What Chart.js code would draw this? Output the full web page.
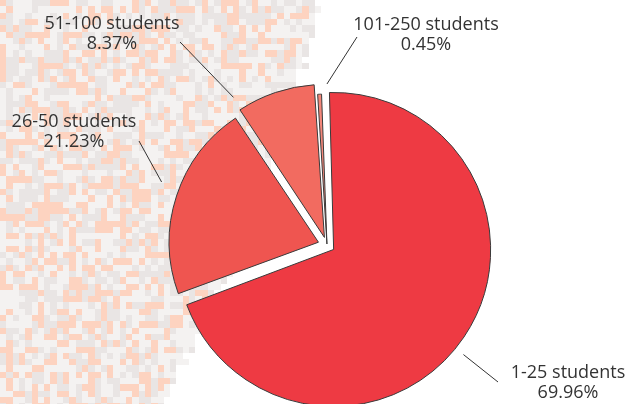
<!DOCTYPE html>
<html>
<head>
<meta charset="utf-8">
<title>Classes by number of students</title>
<script src="https://cdn.jsdelivr.net/npm/chart.js@4.4.1/dist/chart.umd.min.js"></script>
<style>
  html, body { margin: 0; padding: 0; background: #fff; }
  canvas { display: block; }
</style>
</head>
<body>
<canvas id="sizeChart" width="629" height="404"></canvas>
<script>
// Share of classes by enrolment band (percent)
const categories = ['1-25 students', '26-50 students', '51-100 students', '101-250 students'];
const shares = [69.96, 21.23, 8.37, 0.45];
const sliceColors = ['#ee3a43', '#ef5550', '#f26b60', '#f4877a'];
const sliceOffsets = [32, 36, 32, 4];

// Label placement: angle (deg clockwise from 12 o'clock) where the leader leaves
// the slice, the leader's far end, and the first baseline of the text block
const labelLayout = [
  { angle: 129, end: [498, 382], text: [568, 378] },
  { angle: 291, end: [139, 141], text: [74, 127] },
  { angle: 327, end: [180, 42], text: [112, 29] },
  { angle: 0, end: [357, 37], text: [426, 30] }
];

function cellNoise(i, j) {
  const s = Math.sin(i * 127.1 + j * 311.7) * 43758.5453;
  return s - Math.floor(s);
}

// Pixel checker backdrop on the left side
const checkerPlugin = {
  id: 'checker',
  beforeDraw(chart) {
    const ctx = chart.ctx;
    const cell = 6.3;
    const tones = ['#fdd3c0', '#e9e5e4', '#f4f2f1'];
    ctx.save();
    for (let j = 0; j * cell < chart.height; j++) {
      const y0 = Math.round(j * cell);
      const y1 = Math.round((j + 1) * cell);
      const edge = 316 - 0.23 * y0 - 0.0004 * y0 * y0 + (cellNoise(j, 7) - 0.5) * 8;
      for (let i = 0; i * cell < edge; i++) {
        const x0 = Math.round(i * cell);
        const x1 = Math.round((i + 1) * cell);
        const n = cellNoise(i, j);
        const near = (edge - i * cell) / cell;
        let tone;
        if (near < 1.5) tone = n < 0.6 ? tones[2] : tones[1];
        else tone = n < 0.3 ? tones[0] : (n < 0.62 ? tones[1] : tones[2]);
        ctx.fillStyle = tone;
        ctx.fillRect(x0, y0, x1 - x0, y1 - y0);
      }
    }
    ctx.restore();
  }
};

// Leader lines and two-line labels
const leaderPlugin = {
  id: 'leaders',
  afterDatasetsDraw(chart) {
    const ctx = chart.ctx;
    const arcs = chart.getDatasetMeta(0).data;
    ctx.save();
    ctx.strokeStyle = '#333';
    ctx.lineWidth = 1;
    ctx.fillStyle = '#333';
    ctx.font = '18px "Open Sans"';
    ctx.textAlign = 'center';
    arcs.forEach((arc, i) => {
      const {x, y, startAngle, endAngle, outerRadius} =
        arc.getProps(['x', 'y', 'startAngle', 'endAngle', 'outerRadius'], true);
      const mid = (startAngle + endAngle) / 2;
      const shift = (arc.options.offset || 0) / 4;
      const cx = x + Math.cos(mid) * shift;
      const cy = y + Math.sin(mid) * shift;
      const lay = labelLayout[i];
      const a = (lay.angle - 90) * Math.PI / 180;
      const r = outerRadius + shift + 10;
      ctx.beginPath();
      ctx.moveTo(cx + Math.cos(a) * r, cy + Math.sin(a) * r);
      ctx.lineTo(lay.end[0], lay.end[1]);
      ctx.stroke();
      ctx.fillText(categories[i], lay.text[0], lay.text[1]);
      ctx.fillText(shares[i].toFixed(2) + '%', lay.text[0], lay.text[1] + 20);
    });
    ctx.restore();
  }
};

function drawChart() {
  new Chart(document.getElementById('sizeChart'), {
    type: 'pie',
    data: {
      labels: categories,
      datasets: [{
        data: shares,
        backgroundColor: sliceColors,
        borderColor: '#3a3a3a',
        borderWidth: 1,
        borderJoinStyle: 'miter',
        offset: sliceOffsets,
        clip: false
      }]
    },
    options: {
      responsive: false,
      animation: false,
      rotation: -2,
      radius: 149,
      layout: { padding: { left: 25, top: 86 } },
      plugins: { legend: { display: false }, tooltip: { enabled: false } }
    },
    plugins: [checkerPlugin, leaderPlugin]
  });
}

document.fonts.load('18px "Open Sans"').then(drawChart, drawChart);
</script>
</body>
</html>
